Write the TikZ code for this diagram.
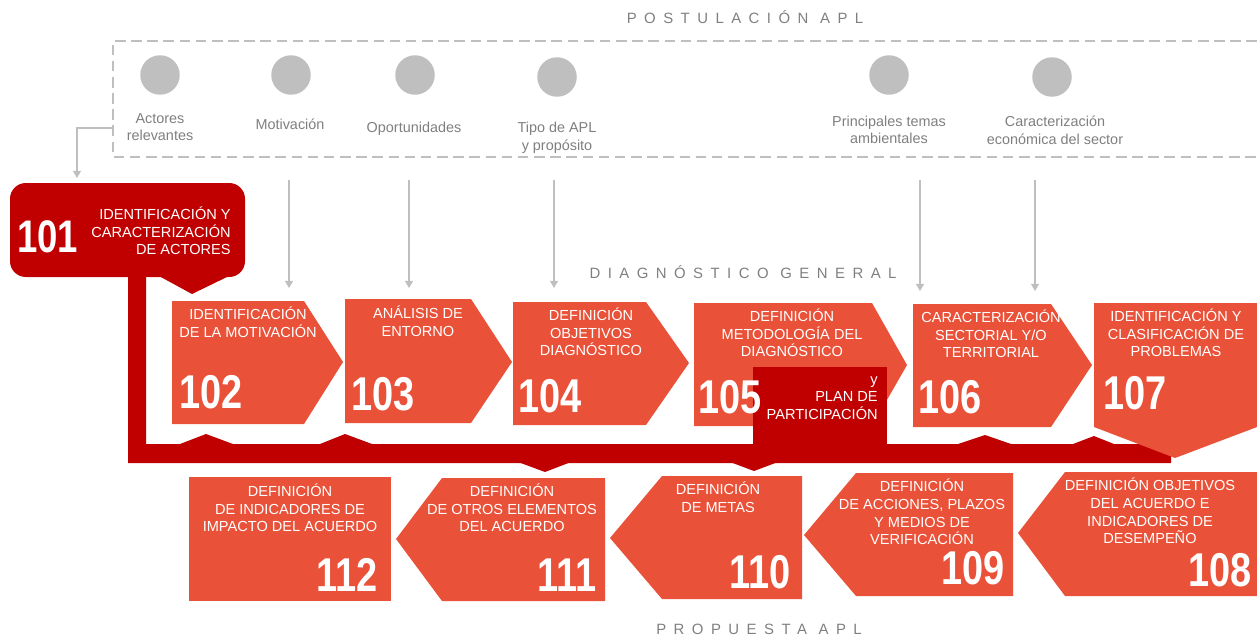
\documentclass[tikz,border=0pt]{standalone}
\usepackage{fontspec}
\setmainfont{Liberation Sans}
\newfontfamily\numfont{Liberation Sans}[FakeStretch=0.8]
\usetikzlibrary{arrows.meta}

\definecolor{boxred}{HTML}{E95139}
\definecolor{darkred}{HTML}{C00000}
\definecolor{dotgray}{HTML}{BFBFBF}
\definecolor{textgray}{HTML}{7F7F7F}

\begin{document}
\begin{tikzpicture}[x=0.02cm,y=-0.02cm,>={Triangle[length=4pt,width=4.5pt]},
    box/.style={fill=boxred},
    dark/.style={fill=darkred},
    btext/.style={text=white,align=center,inner sep=0pt,font=\fontsize{8.3}{10}\selectfont},
    bnum/.style={text=white,inner sep=0pt,font=\numfont\bfseries\fontsize{27}{27}\selectfont},
    dot/.style={circle,fill=dotgray,minimum size=0.79cm,inner sep=0pt},
    item/.style={text=textgray,align=center,inner sep=0pt,font=\fontsize{8.2}{10}\selectfont},
    phase/.style={text=textgray,inner sep=0pt,font=\fontsize{8.5}{10}\selectfont\addfontfeature{LetterSpace=50}},
    feed/.style={->,draw=dotgray,line width=0.6pt}]
    \useasboundingbox (0,0) rectangle (1257,636);

    % phase titles
    \node[phase] (post) at (745,17) {POSTULACIÓN APL};
    \node[phase] (diag) at (743,272) {DIAGNÓSTICO GENERAL};
    \node[phase] (prop) at (759,629) {PROPUESTA APL};

    % postulacion
    \draw[dotgray,line width=1.2pt,dash pattern=on 6pt off 3.2pt] (1257,41) -- (113,41) -- (113,157) -- (1257,157);
    \node[dot] (c1) at (160,75) {};
    \node[dot] (c2) at (291,75) {};
    \node[dot] (c3) at (415,75) {};
    \node[dot] (c4) at (557,77) {};
    \node[dot] (c5) at (889,75) {};
    \node[dot] (c6) at (1052,77) {};
    \node[item] (l1) at (160,127) {Actores\\relevantes};
    \node[item] (l2) at (290,124) {Motivación};
    \node[item] (l3) at (414,129) {Oportunidades};
    \node[item] (l4) at (557,138) {Tipo de APL\\y propósito};
    \node[item] (l5) at (889,130) {Principales temas\\ambientales};
    \node[item] (l6) at (1055,130) {Caracterización\\económica del sector};

    % linea principal
    \fill[dark] (128,277) -- (146,277) -- (146,444) -- (1171,444) -- (1171,463) -- (128,463) -- cycle;
    \fill[dark] (180,444) -- (206,434) -- (233,444) -- cycle;
    \fill[dark] (320,444) -- (345,434) -- (372,444) -- cycle;
    \fill[dark] (958,444) -- (985,435) -- (1011,444) -- cycle;
    \fill[dark] (1073,444) -- (1094,436) -- (1114,444) -- cycle;
    \fill[dark] (518,462) -- (545,472) -- (571,462) -- cycle;
    \fill[dark] (730,462) -- (754,471) -- (778,462) -- cycle;

    % 101
    \fill[dark,rounded corners=9pt] (10,183) rectangle (245,277);
    \fill[dark] (159,276) -- (229,276) -- (192,294) -- cycle;
    \node[bnum,anchor=west,font=\numfont\bfseries\fontsize{26}{26}\selectfont] (n101) at (17,237) {101};
    \node[btext,align=right,anchor=east] (t101) at (231,231) {IDENTIFICACIÓN Y\\CARACTERIZACIÓN\\DE ACTORES};

    % diagnostico
    \fill[box] (172,301) -- (304,301) -- (343,362) -- (304,424) -- (172,424) -- cycle;
    \fill[box] (345,299) -- (471,299) -- (512,362) -- (471,423) -- (345,423) -- cycle;
    \fill[box] (513,302) -- (646,302) -- (689,363) -- (646,425) -- (513,425) -- cycle;
    \fill[box] (694,303) -- (872,303) -- (907,365) -- (872,426) -- (694,426) -- cycle;
    \fill[dark] (753,367) rectangle (887,463);
    \fill[box] (913,304) -- (1051,304) -- (1092,365) -- (1051,427) -- (913,427) -- cycle;
    \fill[box] (1094,303) -- (1257,303) -- (1257,427) -- (1175,458) -- (1094,427) -- cycle;

    \node[btext] (t102) at (248,322) {IDENTIFICACIÓN\\DE LA MOTIVACIÓN};
    \node[btext] (t103) at (418,321) {ANÁLISIS DE\\ENTORNO};
    \node[btext] (t104) at (591,332) {DEFINICIÓN\\OBJETIVOS\\DIAGNÓSTICO};
    \node[btext] (t105) at (792,333) {DEFINICIÓN\\METODOLOGÍA DEL\\DIAGNÓSTICO};
    \node[btext,align=right,anchor=east] (p105) at (878,398) {y\\PLAN DE\\PARTICIPACIÓN};
    \node[btext] (t106) at (991,334) {CARACTERIZACIÓN\\SECTORIAL Y/O\\TERRITORIAL};
    \node[btext] (t107) at (1176,333) {IDENTIFICACIÓN Y\\CLASIFICACIÓN DE\\PROBLEMAS};

    \node[bnum,anchor=west] (n102) at (179,392) {102};
    \node[bnum,anchor=west] (n103) at (351,394) {103};
    \node[bnum,anchor=west] (n104) at (518,396) {104};
    \node[bnum,anchor=west] (n105) at (698,397) {105};
    \node[bnum,anchor=west] (n106) at (918,397) {106};
    \node[bnum,anchor=west] (n107) at (1103,393) {107};

    % propuesta
    \fill[box] (189,477) rectangle (391,601);
    \fill[box] (442,478) -- (605,478) -- (605,601) -- (442,601) -- (396,539) -- cycle;
    \fill[box] (662,476) -- (802,476) -- (802,599) -- (662,599) -- (610,538) -- cycle;
    \fill[box] (856,473) -- (1013,473) -- (1013,596) -- (856,596) -- (804,535) -- cycle;
    \fill[box] (1065,472) -- (1257,472) -- (1257,596) -- (1065,596) -- (1018,533) -- cycle;

    \node[btext] (t108) at (1150,511) {DEFINICIÓN OBJETIVOS\\DEL ACUERDO E\\INDICADORES DE\\DESEMPEÑO};
    \node[btext] (t109) at (922,512) {DEFINICIÓN\\DE ACCIONES, PLAZOS\\Y MEDIOS DE\\VERIFICACIÓN};
    \node[btext] (t110) at (718,497) {DEFINICIÓN\\DE METAS};
    \node[btext] (t111) at (512,508) {DEFINICIÓN\\DE OTROS ELEMENTOS\\DEL ACUERDO};
    \node[btext] (t112) at (290,508) {DEFINICIÓN\\DE INDICADORES DE\\IMPACTO DEL ACUERDO};

    \node[bnum,anchor=east] (n108) at (1252,570) {108};
    \node[bnum,anchor=east] (n109) at (1005,568) {109};
    \node[bnum,anchor=east] (n110) at (791,572) {110};
    \node[bnum,anchor=east] (n111) at (597,575) {111};
    \node[bnum,anchor=east] (n112) at (378,575) {112};

    % flechas
    \coordinate (s101) at (113,128);
    \coordinate (e101) at (77,178);
    \coordinate (s102) at (289,180);
    \coordinate (e102) at (289,288);
    \coordinate (s103) at (409,180);
    \coordinate (e103) at (409,288);
    \coordinate (s104) at (554,180);
    \coordinate (e104) at (554,288);
    \coordinate (s106) at (920,180);
    \coordinate (e106) at (920,291);
    \coordinate (s106b) at (1035,180);
    \coordinate (e106b) at (1035,291);

    \draw[feed] (s101) -| (e101);
    \draw[feed] (s102) -- (e102);
    \draw[feed] (s103) -- (e103);
    \draw[feed] (s104) -- (e104);
    \draw[feed] (s106) -- (e106);
    \draw[feed] (s106b) -- (e106b);
\end{tikzpicture}
\end{document}
